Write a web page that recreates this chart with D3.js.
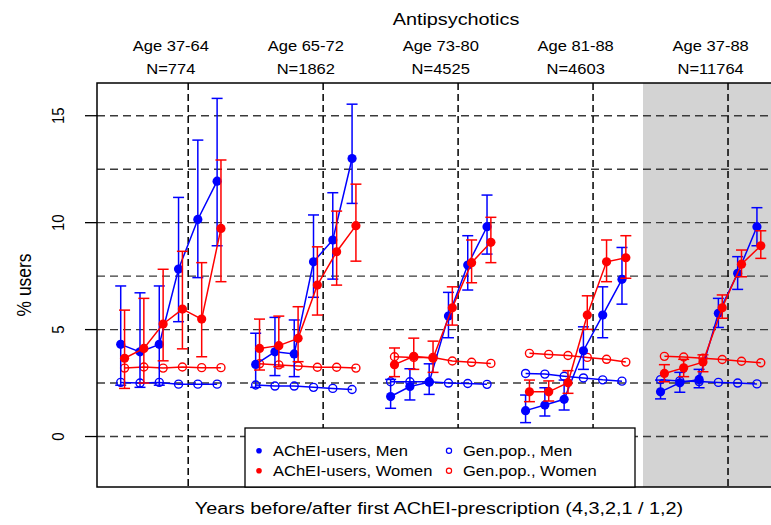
<!DOCTYPE html>
<meta charset='utf-8'>
<style>
body { margin: 0; background: #fff; }
text { font-family: 'Liberation Sans', Arial, sans-serif; fill: #000; }
.grid line { stroke: #3a3a3a; stroke-width: 1.4px; stroke-dasharray: 8,5; }
.vline line { stroke: #000; stroke-width: 1.5px; stroke-dasharray: 7,4; }
</style>
<svg width='771' height='525'></svg>
<script src='https://d3js.org/d3.v7.min.js'></script>
<script>

// panel headers
var ages = ['Age 37-64', 'Age 65-72', 'Age 73-80', 'Age 81-88', 'Age 37-88'];
var ns = ['N=774', 'N=1862', 'N=4525', 'N=4603', 'N=11764'];
var yTicks = [0, 5, 10, 15];
var gridVals = [0, 2.5, 5, 7.5, 10, 12.5, 15];

// AChEI-users, Men (years 4,3,2,1 before / 1,2 after)
var menAch = [
  [4.31, 3.96, 4.31, 7.83, 10.15, 11.94],
  [3.37, 3.96, 3.86, 8.17, 9.19, 13.0],
  [1.87, 2.34, 2.54, 5.63, 8.02, 9.81],
  [1.21, 1.47, 1.74, 4.01, 5.68, 7.35],
  [2.09, 2.51, 2.67, 5.76, 7.63, 9.81]
];
var menLo = [
  [2.4, 2.3, 2.4, 5.37, 7.43, 8.92],
  [2.3, 2.85, 2.8, 6.51, 7.36, 10.9],
  [1.32, 1.71, 1.97, 4.62, 6.85, 8.53],
  [0.65, 0.96, 1.24, 3.14, 4.62, 6.19],
  [1.76, 2.07, 2.28, 5.1, 6.88, 8.92]
];
var menHi = [
  [7.04, 6.72, 7.04, 11.18, 13.86, 15.81],
  [4.83, 5.57, 5.45, 10.36, 11.4, 15.54],
  [2.67, 3.17, 3.4, 6.74, 9.39, 11.29],
  [1.94, 2.28, 2.64, 5.13, 7.0, 8.84],
  [2.64, 3.0, 3.14, 6.46, 8.41, 10.7]
];

// AChEI-users, Women
var womenAch = [
  [3.66, 4.12, 5.26, 5.96, 5.49, 9.73],
  [4.12, 4.25, 4.59, 7.08, 8.64, 9.86],
  [3.36, 3.75, 3.66, 6.02, 8.13, 9.08],
  [2.09, 2.09, 2.52, 5.68, 8.17, 8.36],
  [2.95, 3.21, 3.48, 6.02, 8.06, 8.92]
];
var womenLo = [
  [2.25, 2.5, 3.54, 4.1, 3.73, 7.24],
  [3.11, 3.26, 3.5, 5.68, 7.08, 8.2],
  [2.8, 3.14, 3.0, 5.21, 7.19, 8.13],
  [1.63, 1.66, 2.02, 5.01, 7.24, 7.4],
  [2.56, 2.8, 3.03, 5.53, 7.47, 8.33]
];
var womenHi = [
  [5.91, 6.46, 7.82, 8.66, 8.13, 12.93],
  [5.49, 5.63, 6.07, 8.87, 10.54, 11.8],
  [4.14, 4.6, 4.46, 7.0, 9.19, 10.25],
  [2.64, 2.6, 3.08, 6.58, 9.19, 9.39],
  [3.36, 3.61, 3.82, 6.62, 8.72, 9.62]
];

// General population
var genMen = [
  [2.53, 2.5, 2.53, 2.45, 2.45, 2.45],
  [2.41, 2.36, 2.36, 2.3, 2.25, 2.2],
  [2.56, 2.56, 2.56, 2.5, 2.48, 2.44],
  [2.95, 2.92, 2.82, 2.74, 2.65, 2.59],
  [2.66, 2.6, 2.57, 2.53, 2.5, 2.46]
];
var genWomen = [
  [3.2, 3.25, 3.2, 3.25, 3.22, 3.22],
  [3.4, 3.35, 3.3, 3.24, 3.24, 3.2],
  [3.73, 3.7, 3.7, 3.53, 3.47, 3.42],
  [3.89, 3.84, 3.79, 3.7, 3.61, 3.48],
  [3.75, 3.72, 3.66, 3.6, 3.52, 3.45]
];

var svg = d3.select('svg');
var pLeft = 97, pTop = 83, pRight = 782, pBottom = 487;
var sx = 1.14; // R output was stretched horizontally

var x = d3.scaleLinear().domain([-1.23, 34.3]).range([pLeft, pRight]);
var y = d3.scaleLinear().domain([-2.36, 16.53]).range([pBottom, pTop]);

// position of point i in panel p
function ux(p, i, off) { return x(7 * p + i + (off || 0)); }

function label(g, px, py, s, size, anchor, rot) {
  return g.append('text')
    .attr('transform', 'translate(' + px + ',' + py + ') scale(' + sx + ',1)' + (rot ? ' rotate(' + rot + ')' : ''))
    .attr('text-anchor', anchor || 'middle')
    .style('font-size', size + 'px')
    .text(s);
}

// grey background of the pooled panel
svg.append('rect')
  .attr('x', x(27.09)).attr('y', pTop)
  .attr('width', pRight - x(27.09)).attr('height', pBottom - pTop)
  .attr('fill', '#d3d3d3');

// horizontal dashed grid
svg.append('g').attr('class', 'grid')
  .selectAll('line').data(gridVals).enter().append('line')
    .attr('x1', pLeft).attr('x2', pRight)
    .attr('y1', d => y(d)).attr('y2', d => y(d));

// vertical dashed lines at first prescription
svg.append('g').attr('class', 'vline')
  .selectAll('line').data(d3.range(5)).enter().append('line')
    .attr('x1', p => x(7 * p + 3.5)).attr('x2', p => x(7 * p + 3.5))
    .attr('y1', pTop).attr('y2', pBottom);

// y axis
var yAxis = svg.append('g');
yAxis.selectAll('line').data(yTicks).enter().append('line')
  .attr('x1', pLeft - 12).attr('x2', pLeft)
  .attr('y1', d => y(d)).attr('y2', d => y(d))
  .attr('stroke', '#000').attr('stroke-width', 1.3);
yTicks.forEach(function(t) {
  label(yAxis, 64, y(t), t, 15, 'middle', -90);
});

function drawSeries(vals, color, off, filled) {
  var g = svg.append('g');
  var line = d3.line().x(d => d.px).y(d => y(d.v));
  vals.forEach(function(row, p) {
    var pts = row.map((v, i) => ({ px: ux(p, i, off), v: v }));
    g.append('path').attr('d', line(pts))
      .attr('fill', 'none').attr('stroke', color).attr('stroke-width', 1.5);
    g.selectAll(null).data(pts).enter().append('circle')
      .attr('cx', d => d.px).attr('cy', d => y(d.v))
      .attr('r', filled ? 4.6 : 4)
      .attr('fill', filled ? color : 'none')
      .attr('stroke', color).attr('stroke-width', filled ? 0 : 1.4);
  });
}

function drawErrors(lo, hi, color, off) {
  var g = svg.append('g').attr('stroke', color).attr('stroke-width', 1.5);
  lo.forEach(function(row, p) {
    row.forEach(function(l, i) {
      var px = ux(p, i, off), h = hi[p][i];
      g.append('line').attr('x1', px).attr('x2', px).attr('y1', y(l)).attr('y2', y(h));
      g.append('line').attr('x1', px - 5.5).attr('x2', px + 5.5).attr('y1', y(l)).attr('y2', y(l));
      g.append('line').attr('x1', px - 5.5).attr('x2', px + 5.5).attr('y1', y(h)).attr('y2', y(h));
    });
  });
}

var blue = '#0000ff', red = '#ff0000';
drawSeries(genMen, blue, 0, false);
drawSeries(genWomen, red, 0.2, false);
drawErrors(menLo, menHi, blue, 0);
drawSeries(menAch, blue, 0, true);
drawErrors(womenLo, womenHi, red, 0.2);
drawSeries(womenAch, red, 0.2, true);

// plot frame
svg.append('rect')
  .attr('x', pLeft).attr('y', pTop)
  .attr('width', pRight - pLeft).attr('height', pBottom - pTop)
  .attr('fill', 'none').attr('stroke', '#000').attr('stroke-width', 1.5);

// titles
label(svg, 456, 25, 'Antipsychotics', 17.4);
ages.forEach(function(a, p) {
  var cx = x(7 * p + 2.6);
  label(svg, cx, 51, a, 14.5);
  label(svg, cx, 74, ns[p], 14.5);
});
label(svg, 439, 514, 'Years before/after first AChEI-prescription (4,3,2,1 / 1,2)', 17.4);
label(svg, 31, (pTop + pBottom) / 2, '% users', 17.4, 'middle', -90);

// legend
var lg = svg.append('g');
lg.append('rect').attr('x', 245).attr('y', 428).attr('width', 390).attr('height', pBottom - 428)
  .attr('fill', '#fff').attr('stroke', '#000').attr('stroke-width', 1.3);
var items = [
  { x: 259, y: 450.7, c: blue, f: true, t: 'AChEI-users, Men' },
  { x: 259, y: 470.7, c: red, f: true, t: 'AChEI-users, Women' },
  { x: 449, y: 450.7, c: blue, f: false, t: 'Gen.pop., Men' },
  { x: 449, y: 470.7, c: red, f: false, t: 'Gen.pop., Women' }
];
items.forEach(function(d) {
  lg.append('circle').attr('cx', d.x).attr('cy', d.y).attr('r', d.f ? 2.8 : 2.6)
    .attr('fill', d.f ? d.c : 'none').attr('stroke', d.c).attr('stroke-width', d.f ? 0 : 1.2);
  label(lg, d.x + 14, d.y + 5, d.t, 14.5, 'start');
});

</script>
